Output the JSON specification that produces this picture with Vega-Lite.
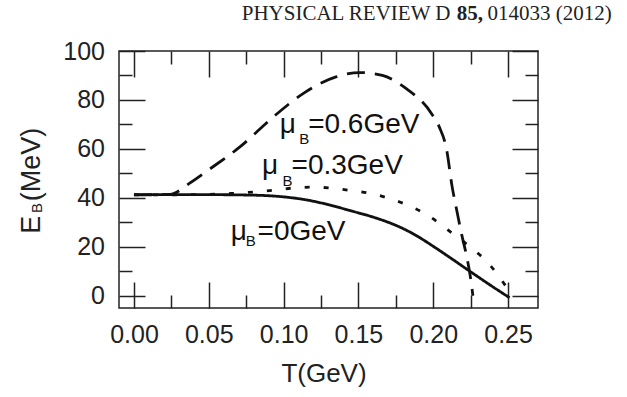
{
  "$schema": "https://vega.github.io/schema/vega-lite/v6.json",
  "width": 419,
  "height": 257,
  "autosize": {"type": "none"},
  "padding": {"left": 119, "top": 51, "right": 89, "bottom": 89},
  "background": "white",
  "config": {
    "view": {"stroke": "#222", "strokeWidth": 1.5},
    "axis": {"grid": false, "domain": false, "labelFont": "Liberation Sans", "labelFontSize": 25, "labelColor": "#222", "tickColor": "#222", "tickWidth": 1.5, "labelOverlap": false, "labelFlush": false}
  },
  "datasets": {
    "curves": [
      {"mu": "0", "T": 0.0, "E": 41.3}, {"mu": "0", "T": 0.05, "E": 41.3}, {"mu": "0", "T": 0.08, "E": 41.1},
      {"mu": "0", "T": 0.1, "E": 40.4}, {"mu": "0", "T": 0.115, "E": 39.2}, {"mu": "0", "T": 0.13, "E": 37.2},
      {"mu": "0", "T": 0.145, "E": 34.7}, {"mu": "0", "T": 0.16, "E": 32.1}, {"mu": "0", "T": 0.17, "E": 30.0},
      {"mu": "0", "T": 0.18, "E": 27.4}, {"mu": "0", "T": 0.19, "E": 24.1}, {"mu": "0", "T": 0.2, "E": 20.2},
      {"mu": "0", "T": 0.21, "E": 16.1}, {"mu": "0", "T": 0.224, "E": 10.2}, {"mu": "0", "T": 0.237, "E": 4.8},
      {"mu": "0", "T": 0.251, "E": -0.8},
      {"mu": "0.3", "T": 0.0, "E": 41.2}, {"mu": "0.3", "T": 0.04, "E": 41.3}, {"mu": "0.3", "T": 0.065, "E": 41.8},
      {"mu": "0.3", "T": 0.08, "E": 42.4}, {"mu": "0.3", "T": 0.093, "E": 43.1}, {"mu": "0.3", "T": 0.106, "E": 44.0},
      {"mu": "0.3", "T": 0.12, "E": 44.4}, {"mu": "0.3", "T": 0.133, "E": 43.9}, {"mu": "0.3", "T": 0.145, "E": 43.0},
      {"mu": "0.3", "T": 0.158, "E": 41.8}, {"mu": "0.3", "T": 0.171, "E": 39.7}, {"mu": "0.3", "T": 0.184, "E": 36.7},
      {"mu": "0.3", "T": 0.198, "E": 32.2}, {"mu": "0.3", "T": 0.21, "E": 26.8}, {"mu": "0.3", "T": 0.223, "E": 20.7},
      {"mu": "0.3", "T": 0.237, "E": 13.2}, {"mu": "0.3", "T": 0.249, "E": 3.5},
      {"mu": "0.6", "T": 0.0, "E": 41.2}, {"mu": "0.6", "T": 0.024, "E": 41.4}, {"mu": "0.6", "T": 0.037, "E": 45.9},
      {"mu": "0.6", "T": 0.05, "E": 51.5}, {"mu": "0.6", "T": 0.071, "E": 60.9}, {"mu": "0.6", "T": 0.093, "E": 73.0},
      {"mu": "0.6", "T": 0.113, "E": 82.6}, {"mu": "0.6", "T": 0.135, "E": 89.4}, {"mu": "0.6", "T": 0.151, "E": 91.2},
      {"mu": "0.6", "T": 0.166, "E": 90.0}, {"mu": "0.6", "T": 0.182, "E": 84.6}, {"mu": "0.6", "T": 0.199, "E": 74.3},
      {"mu": "0.6", "T": 0.204, "E": 69.0}, {"mu": "0.6", "T": 0.209, "E": 59.5}, {"mu": "0.6", "T": 0.2125, "E": 45.0},
      {"mu": "0.6", "T": 0.216, "E": 34.0}, {"mu": "0.6", "T": 0.219, "E": 25.0}, {"mu": "0.6", "T": 0.2226, "E": 15.3},
      {"mu": "0.6", "T": 0.225, "E": 7.0}, {"mu": "0.6", "T": 0.2265, "E": 0.0}
    ],
    "labels": [
      {"T": 0.0975, "E": 66.3, "text": "μ"}, {"T": 0.1164, "E": 66.3, "text": "=0.6GeV"},
      {"T": 0.0856, "E": 49.7, "text": "μ"}, {"T": 0.1053, "E": 49.7, "text": "=0.3GeV"},
      {"T": 0.0647, "E": 22.7, "text": "μ"}, {"T": 0.0826, "E": 22.7, "text": "=0GeV"}
    ],
    "subs": [
      {"T": 0.1104, "E": 62.0, "text": "B"},
      {"T": 0.0992, "E": 45.0, "text": "B"},
      {"T": 0.0747, "E": 20.5, "text": "B"}
    ]
  },
  "layer": [
    {
      "data": {"name": "curves"},
      "mark": {"type": "line", "strokeWidth": 2.8, "color": "#111", "strokeCap": "butt", "interpolate": "monotone"},
      "encoding": {
        "x": {"field": "T", "type": "quantitative", "scale": {"domain": [-0.01, 0.27], "nice": false, "zero": false},
          "axis": {"orient": "bottom", "title": null, "values": [0, 0.025, 0.05, 0.075, 0.1, 0.125, 0.15, 0.175, 0.2, 0.225, 0.25],
            "labelExpr": "round(datum.value*1000) % 50 == 0 ? format(datum.value, '.2f') : ''",
            "tickSize": {"condition": {"test": "round(datum.value*1000) % 50 != 0", "value": -13}, "value": -26},
            "labelPadding": 60, "labelBaseline": "alphabetic"}},
        "y": {"field": "E", "type": "quantitative", "scale": {"domain": [-5, 100], "nice": false, "zero": false},
          "axis": {"orient": "left", "title": null, "values": [0, 10, 20, 30, 40, 50, 60, 70, 80, 90, 100],
            "labelExpr": "datum.value % 20 == 0 ? datum.label : ''",
            "tickSize": {"condition": {"test": "datum.value % 20 != 0", "value": -13}, "value": -26},
            "labelPadding": 40.5}},
        "strokeDash": {"field": "mu", "type": "nominal", "scale": {"domain": ["0", "0.3", "0.6"], "range": [[1, 0], [5, 14], [18, 10]]}, "legend": null}
      }
    },
    {
      "data": {"name": "labels"},
      "mark": {"type": "text", "align": "left", "baseline": "alphabetic", "font": "Liberation Sans", "fontSize": 28, "color": "#111"},
      "encoding": {
        "x": {"field": "T", "type": "quantitative", "scale": {"domain": [-0.01, 0.27], "nice": false, "zero": false},
          "axis": {"orient": "top", "title": null, "labels": false, "values": [0, 0.025, 0.05, 0.075, 0.1, 0.125, 0.15, 0.175, 0.2, 0.225, 0.25],
            "tickSize": {"condition": {"test": "round(datum.value*1000) % 50 != 0", "value": -13}, "value": -26}}},
        "y": {"field": "E", "type": "quantitative", "scale": {"domain": [-5, 100], "nice": false, "zero": false},
          "axis": {"orient": "right", "title": null, "labels": false, "values": [0, 10, 20, 30, 40, 50, 60, 70, 80, 90, 100],
            "tickSize": {"condition": {"test": "datum.value % 20 != 0", "value": -13}, "value": -26}}},
        "text": {"field": "text"}
      }
    },
    {
      "data": {"name": "subs"},
      "mark": {"type": "text", "align": "left", "baseline": "alphabetic", "font": "Liberation Sans", "fontSize": 15, "color": "#111"},
      "encoding": {
        "x": {"field": "T", "type": "quantitative", "scale": {"domain": [-0.01, 0.27], "nice": false, "zero": false}, "axis": null},
        "y": {"field": "E", "type": "quantitative", "scale": {"domain": [-5, 100], "nice": false, "zero": false}, "axis": null},
        "text": {"field": "text"}
      }
    },
    {
      "data": {"values": [{"T": 0.072, "E": 112.7, "text": "PHYSICAL REVIEW D"}]},
      "mark": {"type": "text", "align": "left", "baseline": "alphabetic", "font": "Liberation Serif", "fontSize": 21, "color": "#222"},
      "encoding": {
        "x": {"field": "T", "type": "quantitative", "scale": {"domain": [-0.01, 0.27], "nice": false, "zero": false}, "axis": null},
        "y": {"field": "E", "type": "quantitative", "scale": {"domain": [-5, 100], "nice": false, "zero": false}, "axis": null},
        "text": {"field": "text"}
      }
    },
    {
      "data": {"values": [{"T": 0.2157, "E": 112.7, "text": "85,"}]},
      "mark": {"type": "text", "align": "left", "baseline": "alphabetic", "font": "Liberation Serif", "fontSize": 21, "fontWeight": "bold", "color": "#222"},
      "encoding": {
        "x": {"field": "T", "type": "quantitative", "scale": {"domain": [-0.01, 0.27], "nice": false, "zero": false}, "axis": null},
        "y": {"field": "E", "type": "quantitative", "scale": {"domain": [-5, 100], "nice": false, "zero": false}, "axis": null},
        "text": {"field": "text"}
      }
    },
    {
      "data": {"values": [{"T": 0.3193, "E": 112.7, "text": "014033 (2012)"}]},
      "mark": {"type": "text", "align": "right", "baseline": "alphabetic", "font": "Liberation Serif", "fontSize": 21, "color": "#222"},
      "encoding": {
        "x": {"field": "T", "type": "quantitative", "scale": {"domain": [-0.01, 0.27], "nice": false, "zero": false}, "axis": null},
        "y": {"field": "E", "type": "quantitative", "scale": {"domain": [-5, 100], "nice": false, "zero": false}, "axis": null},
        "text": {"field": "text"}
      }
    },
    {
      "data": {"values": [{"T": 0.127, "E": -35.1, "text": "T(GeV)"}]},
      "mark": {"type": "text", "align": "center", "baseline": "alphabetic", "font": "Liberation Sans", "fontSize": 26, "color": "#222"},
      "encoding": {
        "x": {"field": "T", "type": "quantitative", "scale": {"domain": [-0.01, 0.27], "nice": false, "zero": false}, "axis": null},
        "y": {"field": "E", "type": "quantitative", "scale": {"domain": [-5, 100], "nice": false, "zero": false}, "axis": null},
        "text": {"field": "text"}
      }
    },
    {
      "data": {"values": [{"T": -0.063, "E": 25.3, "text": "E"}, {"T": -0.063, "E": 38.6, "text": "(MeV)"}]},
      "mark": {"type": "text", "align": "left", "baseline": "alphabetic", "angle": 270, "font": "Liberation Sans", "fontSize": 27, "color": "#222"},
      "encoding": {
        "x": {"field": "T", "type": "quantitative", "scale": {"domain": [-0.01, 0.27], "nice": false, "zero": false}, "axis": null},
        "y": {"field": "E", "type": "quantitative", "scale": {"domain": [-5, 100], "nice": false, "zero": false}, "axis": null},
        "text": {"field": "text"}
      }
    },
    {
      "data": {"values": [{"T": -0.0617, "E": 33.8, "text": "B"}]},
      "mark": {"type": "text", "align": "left", "baseline": "alphabetic", "angle": 270, "font": "Liberation Sans", "fontSize": 15, "color": "#222"},
      "encoding": {
        "x": {"field": "T", "type": "quantitative", "scale": {"domain": [-0.01, 0.27], "nice": false, "zero": false}, "axis": null},
        "y": {"field": "E", "type": "quantitative", "scale": {"domain": [-5, 100], "nice": false, "zero": false}, "axis": null},
        "text": {"field": "text"}
      }
    }
  ],
  "resolve": {"axis": {"x": "independent", "y": "independent"}}
}
